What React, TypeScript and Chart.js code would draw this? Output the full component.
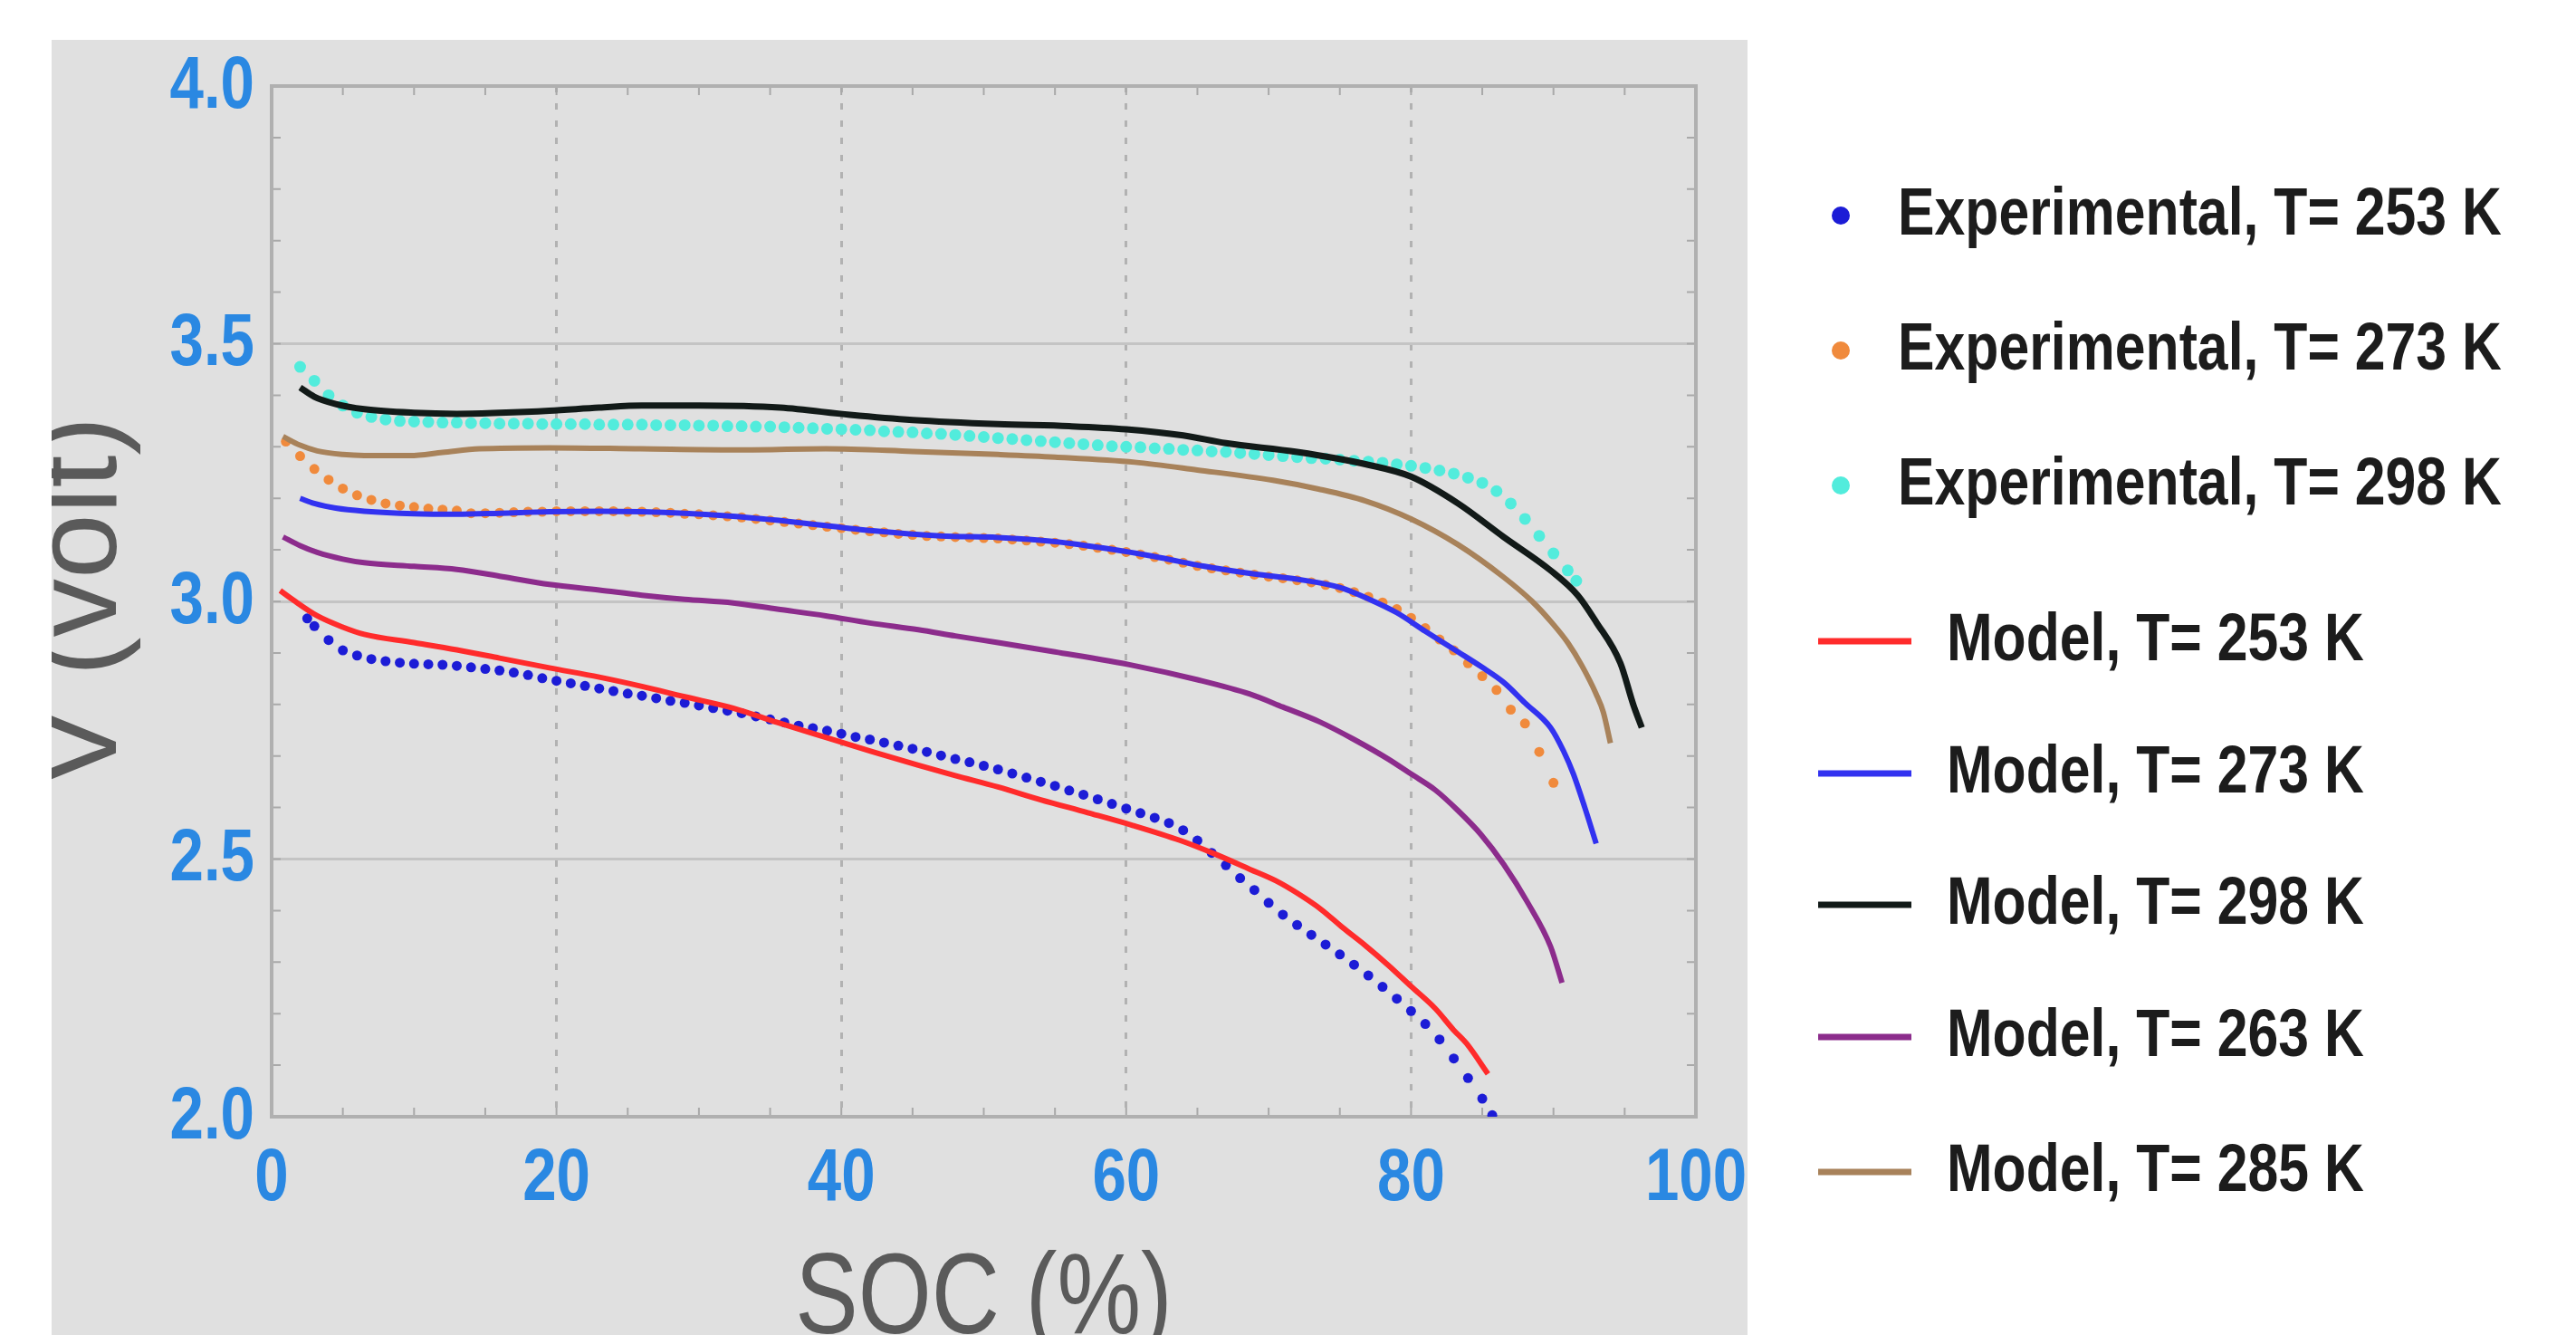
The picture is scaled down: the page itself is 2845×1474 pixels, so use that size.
import React, { useEffect, useRef } from 'react';
import { Chart, registerables } from 'chart.js';

Chart.register(...registerables);

// ---------- axis ticks ----------
const xTickValues = [0, 20, 40, 60, 80, 100];
const yTickValues = [2.0, 2.5, 3.0, 3.5, 4.0];
const xTitle = 'SOC (%)';
const yTitle = 'V (volt)';

// ---------- legend labels ----------
const legendLabels = [
  'Experimental, T= 253 K',
  'Experimental, T= 273 K',
  'Experimental, T= 298 K',
  'Model, T= 253 K',
  'Model, T= 273 K',
  'Model, T= 298 K',
  'Model, T= 263 K',
  'Model, T= 285 K',
];

// ---------- model curves (SOC %, V) ----------
const model253Soc = [0.6, 1.5, 3.2, 5, 6.5, 10, 13, 16, 19.5, 23, 26, 29, 32.4, 35.5, 38.9, 42, 45.4, 48, 51, 54, 57.3, 60.5, 63.8, 66.3, 68.7, 70.5, 72, 73.7, 75.2, 76.8, 78.4, 80, 81.7, 83, 83.9, 85.4];
const model253V = [3.021, 3.003, 2.972, 2.95, 2.936, 2.92, 2.906, 2.89, 2.871, 2.853, 2.835, 2.815, 2.793, 2.765, 2.736, 2.71, 2.682, 2.662, 2.64, 2.615, 2.59, 2.565, 2.536, 2.509, 2.48, 2.458, 2.434, 2.402, 2.367, 2.332, 2.294, 2.253, 2.21, 2.168, 2.142, 2.083];

const model273Soc = [2, 3, 4.5, 6.5, 10, 13, 16, 19.5, 23, 26, 29, 32.4, 37, 42.2, 47, 51, 55, 59, 62, 65.5, 69, 72, 75, 77, 79, 81, 83.3, 85, 86.5, 88, 89.8, 90.7, 91.4, 92.2, 93];
const model273V = [3.2, 3.19, 3.181, 3.175, 3.17, 3.169, 3.171, 3.174, 3.175, 3.174, 3.171, 3.165, 3.153, 3.137, 3.127, 3.124, 3.116, 3.101, 3.087, 3.068, 3.053, 3.043, 3.027, 3.005, 2.978, 2.942, 2.902, 2.872, 2.843, 2.803, 2.755, 2.71, 2.665, 2.6, 2.53];

const model298Soc = [2, 3, 4.5, 6.5, 10, 13, 16, 19.5, 23, 26, 30, 35.7, 40.6, 45, 51, 56, 60, 64, 67, 72, 77, 80, 83.3, 86.5, 89.8, 91.7, 93, 94.7, 95.6, 96.2];
const model298V = [3.415, 3.397, 3.383, 3.373, 3.366, 3.364, 3.366, 3.37, 3.376, 3.38, 3.38, 3.376, 3.362, 3.352, 3.344, 3.34, 3.334, 3.322, 3.307, 3.29, 3.265, 3.242, 3.19, 3.125, 3.06, 3.012, 2.96, 2.88, 2.8, 2.755];

const model263Soc = [0.8, 2, 3.2, 5, 6.5, 10, 13, 16.2, 19.5, 23, 26, 29, 32.4, 35.5, 38.9, 42, 45.4, 48, 51, 55, 60.6, 65, 68.7, 71, 73.6, 76, 78.4, 80, 81.7, 83.3, 84.9, 86.5, 88.2, 89.8, 90.6];
const model263V = [3.125, 3.108, 3.095, 3.082, 3.075, 3.068, 3.062, 3.048, 3.033, 3.022, 3.012, 3.004, 2.997, 2.985, 2.972, 2.958, 2.945, 2.933, 2.92, 2.902, 2.875, 2.848, 2.82, 2.795, 2.766, 2.732, 2.694, 2.665, 2.634, 2.594, 2.548, 2.49, 2.415, 2.33, 2.26];

const model285Soc = [0.8, 2, 3.2, 5, 6.5, 9.7, 12, 14.6, 19.5, 25.9, 32.4, 38.9, 45, 51, 55, 60.6, 65, 70.3, 73.5, 76.8, 80, 83.3, 86.5, 88.5, 90, 91, 92, 93, 93.5, 94];
const model285V = [3.32, 3.303, 3.292, 3.285, 3.283, 3.283, 3.289, 3.296, 3.298, 3.296, 3.294, 3.296, 3.291, 3.285, 3.28, 3.27, 3.255, 3.235, 3.218, 3.195, 3.16, 3.11, 3.047, 3.0, 2.955, 2.92, 2.875, 2.82, 2.785, 2.725];

// ---------- experimental points (SOC %, V) ----------
const exp253Soc = [2.5, 3, 4, 5, 6, 7, 8, 9, 10, 11, 12, 13, 14, 15, 16, 17, 18, 19, 20, 21, 22, 23, 24, 25, 26, 27, 28, 29, 30, 31, 32, 33, 34, 35, 36, 37, 38, 39, 40, 41, 42, 43, 44, 45, 46, 47, 48, 49, 50, 51, 52, 53, 54, 55, 56, 57, 58, 59, 60, 61, 62, 63, 64, 65, 66, 67, 68, 69, 70, 71, 72, 73, 74, 75, 76, 77, 78, 79, 80, 81, 82, 83, 84, 85, 85.7];
const exp253V = [2.967, 2.952, 2.925, 2.905, 2.895, 2.888, 2.884, 2.881, 2.879, 2.878, 2.877, 2.875, 2.872, 2.869, 2.866, 2.862, 2.857, 2.851, 2.846, 2.841, 2.836, 2.831, 2.826, 2.821, 2.817, 2.812, 2.807, 2.803, 2.798, 2.793, 2.788, 2.783, 2.777, 2.771, 2.765, 2.759, 2.754, 2.749, 2.743, 2.737, 2.732, 2.726, 2.72, 2.714, 2.708, 2.701, 2.694, 2.688, 2.681, 2.674, 2.666, 2.658, 2.65, 2.642, 2.633, 2.625, 2.616, 2.607, 2.598, 2.589, 2.58, 2.57, 2.556, 2.536, 2.512, 2.488, 2.463, 2.44, 2.415, 2.392, 2.372, 2.353, 2.334, 2.315, 2.295, 2.274, 2.252, 2.229, 2.205, 2.18, 2.15, 2.113, 2.075, 2.035, 2.003];

const exp273Soc = [1, 2, 3, 4, 5, 6, 7, 8, 9, 10, 11, 12, 13, 14, 15, 16, 17, 18, 19, 20, 21, 22, 23, 24, 25, 26, 27, 28, 29, 30, 31, 32, 33, 34, 35, 36, 37, 38, 39, 40, 41, 42, 43, 44, 45, 46, 47, 48, 49, 50, 51, 52, 53, 54, 55, 56, 57, 58, 59, 60, 61, 62, 63, 64, 65, 66, 67, 68, 69, 70, 71, 72, 73, 74, 75, 76, 77, 78, 79, 80, 81, 82, 83, 84, 85, 86, 87, 88, 89, 90];
const exp273V = [3.31, 3.282, 3.257, 3.236, 3.219, 3.206, 3.197, 3.19, 3.186, 3.183, 3.18, 3.178, 3.176, 3.171, 3.171, 3.172, 3.173, 3.174, 3.174, 3.175, 3.175, 3.175, 3.175, 3.175, 3.174, 3.174, 3.173, 3.172, 3.17, 3.169, 3.167, 3.165, 3.163, 3.16, 3.157, 3.154, 3.151, 3.148, 3.145, 3.142, 3.139, 3.136, 3.134, 3.131, 3.129, 3.127, 3.126, 3.125, 3.124, 3.123, 3.122, 3.12, 3.118, 3.116, 3.114, 3.111, 3.108, 3.104, 3.1, 3.096, 3.091, 3.086, 3.081, 3.075, 3.069, 3.064, 3.06, 3.056, 3.052, 3.048, 3.045, 3.041, 3.037, 3.032, 3.026, 3.018, 3.009, 2.998, 2.985, 2.968, 2.948, 2.926, 2.905, 2.88, 2.855, 2.828, 2.79, 2.763, 2.708, 2.648];

const exp298Soc = [2, 3, 4, 5, 6, 7, 8, 9, 10, 11, 12, 13, 14, 15, 16, 17, 18, 19, 20, 21, 22, 23, 24, 25, 26, 27, 28, 29, 30, 31, 32, 33, 34, 35, 36, 37, 38, 39, 40, 41, 42, 43, 44, 45, 46, 47, 48, 49, 50, 51, 52, 53, 54, 55, 56, 57, 58, 59, 60, 61, 62, 63, 64, 65, 66, 67, 68, 69, 70, 71, 72, 73, 74, 75, 76, 77, 78, 79, 80, 81, 82, 83, 84, 85, 86, 87, 88, 89, 90, 91, 91.6];
const exp298V = [3.455, 3.428, 3.4, 3.38, 3.366, 3.358, 3.353, 3.35, 3.349, 3.348, 3.347, 3.347, 3.346, 3.346, 3.345, 3.345, 3.345, 3.344, 3.344, 3.344, 3.344, 3.343, 3.343, 3.343, 3.343, 3.342, 3.342, 3.342, 3.341, 3.341, 3.34, 3.34, 3.339, 3.339, 3.338, 3.337, 3.336, 3.335, 3.334, 3.333, 3.332, 3.33, 3.329, 3.328, 3.326, 3.325, 3.323, 3.321, 3.319, 3.317, 3.315, 3.313, 3.311, 3.309, 3.307, 3.305, 3.303, 3.301, 3.3, 3.299, 3.297, 3.296, 3.294, 3.293, 3.291, 3.29, 3.288, 3.286, 3.284, 3.282, 3.28, 3.278, 3.277, 3.275, 3.273, 3.271, 3.269, 3.266, 3.263, 3.259, 3.254, 3.248, 3.24, 3.23, 3.214, 3.19, 3.16, 3.127, 3.093, 3.06, 3.04];

// ---------- styles ----------
const FONT = "'Liberation Sans', Arial, sans-serif";
const NARROW_SCALE = 0.82;
const TICK_COLOR = '#2a88e2';
const TITLE_COLOR = '#5a5a5a';
const PANEL_COLOR = '#e0e0e0';

const C_EXP253 = '#1c1cd6';
const C_EXP273 = '#f08a3c';
const C_EXP298 = '#52ecdc';
const C_M253 = '#ff2b2b';
const C_M273 = '#3232f0';
const C_M298 = '#121a18';
const C_M263 = '#8c2c8c';
const C_M285 = '#a8825a';

const legendColors = [C_EXP253, C_EXP273, C_EXP298, C_M253, C_M273, C_M298, C_M263, C_M285];
const legendRowY = [238, 387, 536, 708, 854, 999, 1145, 1294];

const pairs = (xs: number[], ys: number[]) => xs.map((x, i) => ({ x, y: ys[i] }));

function narrowText(ctx: CanvasRenderingContext2D, text: string, x: number, y: number, align: CanvasTextAlign, baseline: CanvasTextBaseline, scale = NARROW_SCALE) {
  ctx.save();
  ctx.translate(x, y);
  ctx.scale(scale, 1);
  ctx.textAlign = align;
  ctx.textBaseline = baseline;
  ctx.fillText(text, 0, 0);
  ctx.restore();
}

const bgPlugin = {
  id: 'panelBg',
  beforeDraw(chart: any) {
    const { ctx, width, height } = chart;
    ctx.save();
    ctx.fillStyle = '#ffffff';
    ctx.fillRect(0, 0, width, height);
    ctx.fillStyle = PANEL_COLOR;
    ctx.fillRect(57, 44, 1930 - 57, height - 44);
    ctx.restore();
  },
  afterDraw(chart: any) {
    const { ctx, height } = chart;
    ctx.save();
    ctx.fillStyle = '#ffffff';
    ctx.fillRect(0, 0, 57, height);
    ctx.restore();
  },
};

const framePlugin = {
  id: 'frame',
  beforeDatasetsDraw(chart: any) {
    const { ctx, chartArea } = chart;
    const xs = chart.scales.x;
    const ys = chart.scales.y;
    const { left, right, top, bottom } = chartArea;
    ctx.save();
    ctx.strokeStyle = '#a9a9a9';
    ctx.lineWidth = 2;
    for (let v = 5; v < 100; v += 5) {
      const px = xs.getPixelForValue(v);
      ctx.beginPath();
      ctx.moveTo(px, top);
      ctx.lineTo(px, top + 10);
      ctx.moveTo(px, bottom);
      ctx.lineTo(px, bottom - 10);
      ctx.stroke();
    }
    for (let k = 1; k < 20; k++) {
      const py = ys.getPixelForValue(2 + k * 0.1);
      ctx.beginPath();
      ctx.moveTo(left, py);
      ctx.lineTo(left + 10, py);
      ctx.moveTo(right, py);
      ctx.lineTo(right - 10, py);
      ctx.stroke();
    }
    ctx.strokeStyle = '#b0b0b0';
    ctx.lineWidth = 4;
    ctx.strokeRect(left, top, right - left, bottom - top);
    ctx.restore();
  },
};

// tick labels and x title in the narrow (condensed) style of the original
const axisTextPlugin = {
  id: 'axisText',
  afterDraw(chart: any) {
    const { ctx, chartArea } = chart;
    const xs = chart.scales.x;
    const ys = chart.scales.y;
    ctx.save();
    ctx.fillStyle = TICK_COLOR;
    ctx.font = `bold 82px ${FONT}`;
    xTickValues.forEach((v) => {
      narrowText(ctx, String(v), xs.getPixelForValue(v), chartArea.bottom + 69, 'center', 'middle');
    });
    yTickValues.forEach((v) => {
      narrowText(ctx, v.toFixed(1), chartArea.left - 19, ys.getPixelForValue(v) + 1, 'right', 'middle');
    });
    ctx.fillStyle = TITLE_COLOR;
    ctx.font = `normal 127px ${FONT}`;
    narrowText(ctx, xTitle, (chartArea.left + chartArea.right) / 2, 1472, 'center', 'alphabetic');
    ctx.restore();
  },
};

const legendPlugin = {
  id: 'sideLegend',
  afterDraw(chart: any) {
    const { ctx } = chart;
    ctx.save();
    ctx.font = `bold 75px ${FONT}`;
    legendLabels.forEach((label, i) => {
      const y = legendRowY[i];
      const color = legendColors[i];
      if (i < 3) {
        ctx.fillStyle = color;
        ctx.beginPath();
        ctx.arc(2033, y, 10, 0, Math.PI * 2);
        ctx.fill();
        ctx.fillStyle = '#1c1c1c';
        narrowText(ctx, label, 2096, y, 'left', 'middle', 0.81);
      } else {
        ctx.strokeStyle = color;
        ctx.lineWidth = 7;
        ctx.beginPath();
        ctx.moveTo(2008, y);
        ctx.lineTo(2111, y);
        ctx.stroke();
        ctx.fillStyle = '#1c1c1c';
        narrowText(ctx, label, 2150, y, 'left', 'middle', 0.81);
      }
    });
    ctx.restore();
  },
};

export default function App() {
  const ref = useRef<HTMLCanvasElement>(null);

  useEffect(() => {
    const canvas = ref.current;
    if (!canvas) return;

    const lineDs = (label: string, xs: number[], ys: number[], color: string, w: number) => ({
      label,
      data: pairs(xs, ys),
      borderColor: color,
      backgroundColor: color,
      borderWidth: w,
      pointRadius: 0,
      showLine: true,
      fill: false,
      cubicInterpolationMode: 'monotone' as const,
      order: 0,
    });
    const dotDs = (label: string, xs: number[], ys: number[], color: string, r: number) => ({
      label,
      data: pairs(xs, ys),
      borderColor: color,
      backgroundColor: color,
      borderWidth: 0,
      pointRadius: r,
      pointHoverRadius: r,
      showLine: false,
      fill: false,
      order: 1,
    });

    const chart = new Chart(canvas, {
      type: 'line',
      data: {
        datasets: [
          dotDs(legendLabels[0], exp253Soc, exp253V, C_EXP253, 5.5),
          dotDs(legendLabels[1], exp273Soc, exp273V, C_EXP273, 5.5),
          dotDs(legendLabels[2], exp298Soc, exp298V, C_EXP298, 6.5),
          lineDs(legendLabels[3], model253Soc, model253V, C_M253, 6),
          lineDs(legendLabels[4], model273Soc, model273V, C_M273, 6),
          lineDs(legendLabels[5], model298Soc, model298V, C_M298, 7),
          lineDs(legendLabels[6], model263Soc, model263V, C_M263, 6),
          lineDs(legendLabels[7], model285Soc, model285V, C_M285, 6),
        ] as any,
      },
      options: {
        responsive: false,
        animation: false,
        devicePixelRatio: 1,
        events: [],
        layout: { padding: { left: 0, top: 95, right: 972, bottom: 0 } },
        plugins: {
          legend: { display: false },
          tooltip: { enabled: false },
          title: { display: false },
        },
        scales: {
          x: {
            type: 'linear',
            min: 0,
            max: 100,
            afterFit: (s: any) => { s.height = 241; },
            afterBuildTicks: (s: any) => { s.ticks = xTickValues.map((v) => ({ value: v })); },
            ticks: { display: false },
            grid: {
              drawTicks: false,
              lineWidth: 3,
              color: (c: any) => (c.tick && (c.tick.value === 0 || c.tick.value === 100) ? 'rgba(0,0,0,0)' : '#b2b2b2'),
            },
            border: { display: false, dash: [7, 12] },
            title: { display: false, text: xTitle },
          },
          y: {
            type: 'linear',
            min: 2,
            max: 4,
            afterFit: (s: any) => { s.width = 300; },
            afterBuildTicks: (s: any) => { s.ticks = yTickValues.map((v) => ({ value: v })); },
            ticks: { display: false },
            grid: {
              drawTicks: false,
              lineWidth: 3,
              color: (c: any) => (c.tick && (c.tick.value === 2 || c.tick.value === 4) ? 'rgba(0,0,0,0)' : '#c4c4c4'),
            },
            border: { display: false },
            title: {
              display: true,
              text: yTitle,
              color: TITLE_COLOR,
              font: { family: FONT, size: 129, weight: 'normal', lineHeight: 1.2 },
              padding: { top: 15, bottom: 0 },
            },
          },
        },
      } as any,
      plugins: [bgPlugin, framePlugin, axisTextPlugin, legendPlugin],
    });

    return () => chart.destroy();
  }, []);

  return (
    <div style={{ position: 'fixed', left: 0, top: 0, width: 2845, height: 1474, background: '#ffffff' }}>
      <canvas ref={ref} width={2845} height={1474} style={{ display: 'block', width: 2845, height: 1474 }} />
    </div>
  );
}
